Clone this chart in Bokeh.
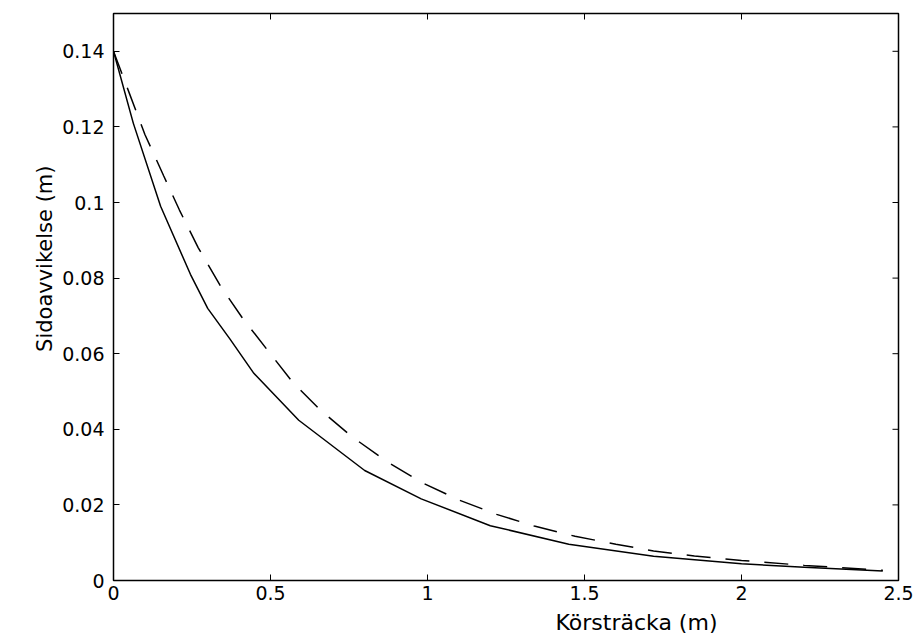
from bokeh.plotting import figure
from bokeh.models import Range1d, FixedTicker, LinearAxis, Title
from bokeh.embed import file_html
from bokeh.resources import INLINE
import math

# Data
solid_x = [0, 0.063, 0.15, 0.245, 0.3, 0.37, 0.447, 0.59, 0.8, 0.98, 1.2, 1.45, 1.72, 2.0, 2.2, 2.45]
solid_y = [0.140, 0.121, 0.099, 0.081, 0.072, 0.064, 0.0548, 0.0424, 0.0291, 0.0216, 0.0145, 0.0096, 0.0064, 0.0044, 0.0035, 0.0025]

dash_x = [0, 0.05, 0.1, 0.16, 0.21, 0.27, 0.34, 0.41, 0.49, 0.57, 0.66, 0.76, 0.87, 0.98, 1.1, 1.22, 1.34, 1.47, 1.6, 1.72, 1.85, 2.0, 2.2, 2.45]
dash_y = [0.140, 0.129, 0.118, 0.107, 0.098, 0.088, 0.078, 0.0695, 0.061, 0.0525, 0.045, 0.038, 0.0315, 0.026, 0.0213, 0.0175, 0.0144, 0.0117, 0.0096, 0.0078, 0.0065, 0.0053, 0.0040, 0.0027]

x_ticks = [0, 0.5, 1, 1.5, 2, 2.5]
x_tick_labels = ["0", "0.5", "1", "1.5", "2", "2.5"]
y_ticks = [0, 0.02, 0.04, 0.06, 0.08, 0.1, 0.12, 0.14]
y_tick_labels = ["0", "0.02", "0.04", "0.06", "0.08", "0.1", "0.12", "0.14"]

x_label = "Körsträcka (m)"
y_label = "Sidoavvikelse (m)"

X_MIN, X_MAX = 0, 2.5
Y_MIN, Y_MAX = 0, 0.15

FONT = "DejaVu Sans"

p = figure(width=918, height=644, output_backend="svg", toolbar_location=None,
           x_range=Range1d(X_MIN, X_MAX), y_range=Range1d(Y_MIN, Y_MAX),
           min_border_left=113, min_border_right=20, min_border_top=13, min_border_bottom=64,
           x_axis_location=None, y_axis_location=None)
p.grid.visible = False
p.outline_line_color = "black"
p.outline_line_width = 1.5
p.background_fill_color = "white"
p.border_fill_color = "white"

def style_axis(ax, ticks, labels, standoff):
    ax.ticker = FixedTicker(ticks=ticks)
    ax.major_label_overrides = {t: l for t, l in zip(ticks, labels)}
    ax.axis_line_color = None
    ax.major_tick_in = 6
    ax.major_tick_out = 0
    ax.major_tick_line_color = "black"
    ax.major_tick_line_width = 1
    ax.minor_tick_line_color = None
    ax.major_label_text_font = FONT
    ax.major_label_text_color = "black"
    ax.major_label_text_font_size = "19px"
    ax.major_label_standoff = standoff

bottom = LinearAxis()
style_axis(bottom, x_ticks, x_tick_labels, 5)
p.add_layout(bottom, "below")
left = LinearAxis()
style_axis(left, y_ticks, y_tick_labels, 9)
p.add_layout(left, "left")

# tick marks on the top and right edges (inward, clipped at the frame)
p.scatter(x_ticks, [Y_MAX] * len(x_ticks), marker="dash", size=12, angle=math.pi / 2,
          line_color="black", line_width=1)
p.scatter([X_MAX] * len(y_ticks), y_ticks, marker="dash", size=12,
          line_color="black", line_width=1)

p.line(solid_x, solid_y, line_color="black", line_width=1.5)
p.line(dash_x, dash_y, line_color="black", line_width=1.5, line_dash="24 15")

p.add_layout(Title(text=x_label, align="left", offset=442, text_font=FONT,
                   text_font_size="22px", text_font_style="normal", text_color="black",
                   standoff=10), "below")
p.add_layout(Title(text=y_label, align="right", offset=152, text_font=FONT,
                   text_font_size="21px", text_font_style="normal", text_color="black",
                   standoff=6), "left")

open("out.html", "w").write(file_html(p, INLINE))
